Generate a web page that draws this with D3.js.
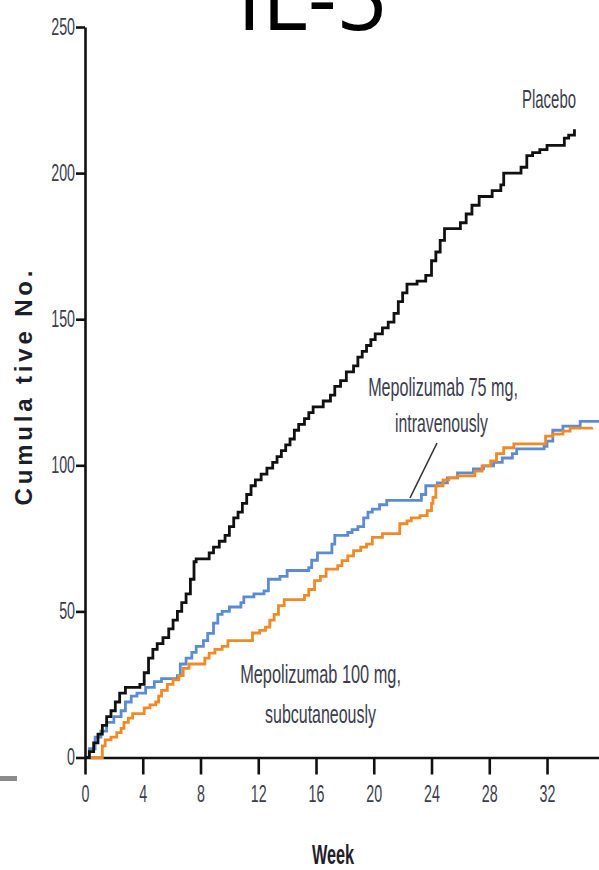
<!DOCTYPE html>
<html>
<head>
<meta charset="utf-8">
<script src="https://cdn.jsdelivr.net/npm/d3@7/dist/d3.min.js"></script>
<style>
  html, body { margin: 0; padding: 0; background: #fff; }
  svg { display: block; }
</style>
</head>
<body>
<svg id="chart" width="599" height="870"></svg>
<script>
// Cumulative number of exacerbations by week, per treatment arm (step curves).
const weekTicks = [0, 4, 8, 12, 16, 20, 24, 28, 32];
const countTicks = [0, 50, 100, 150, 200, 250];

const placeboWeeks = [0,0.3,0.6,0.9,1.2,1.5,1.8,2.1,2.4,2.8,3.8,4.1,4.4,4.7,5.0,5.4,5.8,6.1,6.4,6.7,7.0,7.3,7.55,7.7,8.6,8.9,9.3,9.7,10.0,10.3,10.6,10.9,11.2,11.5,11.8,12.2,12.6,13.0,13.3,13.6,13.9,14.2,14.5,14.8,15.2,15.5,15.8,16.5,17.0,17.3,17.7,18.1,18.6,18.9,19.2,19.5,19.8,20.1,20.6,21.0,21.4,21.7,22.0,22.3,23.0,23.6,24.0,24.3,24.6,24.9,26.0,26.4,26.8,27.3,28.2,28.8,29.0,30.2,30.6,31.0,31.5,32.0,33.2,33.5,33.9];
const placeboCounts = [0,2,5,8,11,14,16,19,22,24,25,29,34,37,39,41,44,47,50,53,56,61,67,68,70,72,74,76,79,82,84,87,90,93,95,97,99,101,103,105,107,109,112,114,116,118,120,122,124,127,129,132,134,137,139,141,143,145,147,149,152,156,159,162,163,165,170,173,177,181,183,186,189,192,194,196,200,202,206,207,208,209.5,212,213,215];

const ivWeeks = [0,0.3,0.7,1.1,1.5,2.0,2.5,2.8,3.2,3.6,4.2,4.8,5.3,6.4,6.6,7.0,7.4,7.7,8.2,8.5,8.9,9.2,9.5,10.0,10.8,11.0,11.7,12.4,12.7,13.5,14.0,15.5,15.7,16.1,17.1,17.3,18.2,18.5,18.9,19.3,19.6,19.9,20.4,20.9,23.3,23.6,24.4,25.1,25.8,26.9,27.6,28.3,28.9,29.6,29.9,31.8,32.0,32.4,33.1,34.3,35.6];
const ivCounts = [0,3,7,9,12,14,16,19,21,22,24,26,27,28,32,34,36,38,40,42.5,46,49,50,51.5,53,55,56,57,61,62,64,65,67.5,70,73,76,77,78,79,82,84,85,86.5,88,90,93,94,95.7,97.4,98.8,99.8,101,102.5,104,105.6,106.5,108.3,112,113.4,115,115];

const scWeeks = [0,1.0,1.2,1.4,1.8,2.2,2.5,2.7,3.0,3.3,4.1,4.5,4.9,5.1,5.3,5.7,6.1,6.5,6.8,7.2,8.3,8.6,9.0,9.5,9.9,11.6,12.1,12.5,12.8,13.1,13.4,13.8,15.2,15.5,15.9,16.3,16.7,17.5,17.8,18.2,18.6,19.1,19.5,19.9,20.6,21.8,22.3,22.6,23.2,23.7,24.0,24.1,24.3,24.8,25.2,25.8,27.0,27.5,28.1,28.5,29.0,29.7,31.9,32.4,33.1,33.6,35.1];
const scCounts = [0,0,4,6,7,8.5,10,12,13.5,15,17,18,19,21,23,25,26.6,28,30.5,32,34,35.7,37,38,40,42.6,43.5,44.6,47,49,52,54,55.5,57.5,60.5,62,64.5,65.7,67.4,69,70.8,72,73,75.3,76.6,80,81,82,82.8,84.5,87,89,93,95,95.7,96.4,98,99.8,101.5,104,106,107.3,110,110.7,111.7,112.7,113];

const seriesNames = ["Placebo", "Mepolizumab 75 mg IV", "Mepolizumab 100 mg SC"];
const seriesColors = ["#111111", "#5b8cd3", "#ef8a27"];

const svg = d3.select("#chart");
const x = d3.scaleLinear().domain([0, 35.6]).range([85, 599]);
const y = d3.scaleLinear().domain([0, 250]).range([757.5, 27]);

const inkColor = "#3c3c4c";
const labelFont = "'Liberation Sans', Arial, sans-serif";

// squeeze text horizontally to mimic a condensed face
function condense(sel, factor) {
  sel.each(function () {
    const w = this.getComputedTextLength();
    d3.select(this).attr("textLength", w * factor).attr("lengthAdjust", "spacingAndGlyphs");
  });
}

// title, mostly above the top edge
svg.append("text")
  .attr("x", 237).attr("y", 30)
  .attr("font-family", "'Open Sans', sans-serif")
  .attr("font-size", 92)
  .attr("fill", "#000")
  .attr("textLength", 150).attr("lengthAdjust", "spacingAndGlyphs")
  .text("IL-5");

// small grey rule at the lower left
svg.append("rect").attr("x", 0).attr("y", 776).attr("width", 17).attr("height", 5).attr("fill", "#8a8a8a");

// axes
const xAxis = d3.axisBottom(x).tickValues(weekTicks).tickSize(17).tickSizeOuter(0).tickPadding(11);
const yAxis = d3.axisLeft(y).tickValues(countTicks).tickSize(9).tickSizeOuter(0).tickPadding(1);

const gx = svg.append("g").attr("transform", `translate(0,${y(0)})`).call(xAxis);
const gy = svg.append("g").attr("transform", `translate(${x(0)},0)`).call(yAxis);

[gx, gy].forEach(g => {
  g.select(".domain").attr("stroke", "#111").attr("stroke-width", 2.6);
  g.selectAll(".tick line").attr("stroke", "#111").attr("stroke-width", 2.6);
  g.selectAll(".tick text")
    .attr("font-family", labelFont)
    .attr("font-size", 23)
    .attr("fill", inkColor);
});
condense(gx.selectAll(".tick text"), 0.62);
condense(gy.selectAll(".tick text"), 0.62);

// axis titles
const wk = svg.append("text")
  .attr("x", 333).attr("y", 864)
  .attr("text-anchor", "middle")
  .attr("font-family", labelFont)
  .attr("font-weight", "bold")
  .attr("font-size", 28)
  .attr("fill", "#1e1e2a")
  .text("Week");
condense(wk, 0.58);

svg.append("text")
  .attr("transform", "translate(32,388) rotate(-90)")
  .attr("text-anchor", "middle")
  .attr("font-family", labelFont)
  .attr("font-weight", "bold")
  .attr("font-size", 24)
  .attr("fill", "#1e1e2a")
  .attr("textLength", 235).attr("lengthAdjust", "spacing")
  .text("Cumula tive No.");

// step curves
const line = d3.line().curve(d3.curveStepAfter).x(d => x(d[0])).y(d => y(d[1]));
const series = [
  d3.zip(ivWeeks, ivCounts),
  d3.zip(scWeeks, scCounts),
  d3.zip(placeboWeeks, placeboCounts)
];
const colorsInOrder = [seriesColors[1], seriesColors[2], seriesColors[0]];
svg.append("g").selectAll("path")
  .data(series)
  .join("path")
  .attr("d", line)
  .attr("fill", "none")
  .attr("stroke", (d, i) => colorsInOrder[i])
  .attr("stroke-width", 2.8)
  .attr("stroke-linejoin", "miter");

// leader from the IV label to its curve
svg.append("line")
  .attr("x1", 437).attr("y1", 443).attr("x2", 410).attr("y2", 498)
  .attr("stroke", "#333").attr("stroke-width", 1.6);

// curve labels: right-aligned, then scaled horizontally to a condensed width
const labels = [
  { text: "Placebo", x: 576, y: 108, w: 54 },
  { text: "Mepolizumab 75 mg,", x: 518, y: 396, w: 150 },
  { text: "intravenously", x: 488, y: 432, w: 93 },
  { text: "Mepolizumab 100 mg,", x: 401, y: 683, w: 161 },
  { text: "subcutaneously", x: 376, y: 723, w: 111 }
];
svg.append("g").selectAll("text")
  .data(labels)
  .join("text")
  .attr("text-anchor", "end")
  .attr("font-family", labelFont)
  .attr("font-size", 25)
  .attr("fill", inkColor)
  .text(d => d.text)
  .each(function (d) {
    const sx = d.w / this.getComputedTextLength();
    d3.select(this).attr("transform", `translate(${d.x},${d.y}) scale(${sx},1)`);
  });
</script>
</body>
</html>
